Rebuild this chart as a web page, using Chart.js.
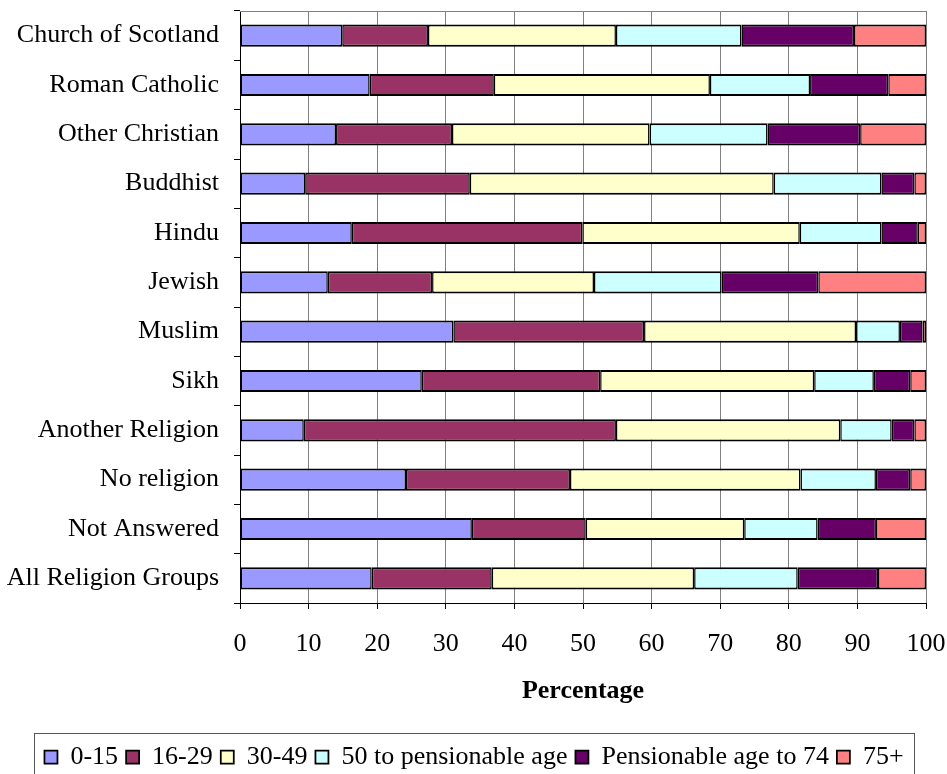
<!DOCTYPE html>
<html>
<head>
<meta charset="utf-8">
<script src="https://cdn.jsdelivr.net/npm/chart.js@4.4.1/dist/chart.umd.min.js"></script>
<style>
  html, body { margin: 0; padding: 0; background: #ffffff; overflow: hidden; }
  #wrap { width: 947px; height: 774px; overflow: hidden; }
  canvas { display: block; }
</style>
</head>
<body>
<div id="wrap"><canvas id="chart" width="947" height="780"></canvas></div>
<script>
// Religion groups (one bar each, top to bottom)
const categories = [
  'Church of Scotland', 'Roman Catholic', 'Other Christian', 'Buddhist', 'Hindu',
  'Jewish', 'Muslim', 'Sikh', 'Another Religion', 'No religion', 'Not Answered',
  'All Religion Groups'
];

// Age band names
const seriesNames = ['0-15', '16-29', '30-49', '50 to pensionable age', 'Pensionable age to 74', '75+'];

// Percentage of each religion group in each age band
const age0to15      = [14.9, 18.9, 14.0,  9.5, 16.3, 12.8, 31.1, 26.5,  9.3, 24.2, 33.8, 19.2];
const age16to29     = [12.5, 18.1, 16.9, 24.0, 33.6, 15.2, 27.8, 26.0, 45.5, 23.9, 16.6, 17.5];
const age30to49     = [27.4, 31.5, 28.8, 44.3, 31.7, 23.6, 30.9, 31.2, 32.7, 33.6, 23.1, 29.5];
const age50toPens   = [18.3, 14.6, 17.2, 15.7, 11.9, 18.6,  6.4,  8.7,  7.5, 11.0, 10.7, 15.1];
const agePensTo74   = [16.4, 11.4, 13.5,  4.8,  5.3, 14.1,  3.3,  5.3,  3.3,  5.0,  8.5, 11.7];
const age75plus     = [10.5,  5.5,  9.6,  1.7,  1.2, 15.7,  0.5,  2.3,  1.7,  2.3,  7.3,  7.0];

// Axis tick labels
const xTicks = [0, 10, 20, 30, 40, 50, 60, 70, 80, 90, 100];
const xTitle = 'Percentage';

const seriesValues = [age0to15, age16to29, age30to49, age50toPens, agePensTo74, age75plus];
const seriesColors = ['#9999FF', '#993366', '#FFFFCC', '#CCFFFF', '#660066', '#FF8080'];

const FONT = "'Liberation Serif', 'Times New Roman', serif";

// Thin gray frame along the top edge of the plot area
const plotFrame = {
  id: 'plotFrame',
  beforeDatasetsDraw(chart) {
    const { ctx, chartArea: a } = chart;
    ctx.save();
    ctx.strokeStyle = '#808080';
    ctx.lineWidth = 1;
    ctx.beginPath();
    ctx.moveTo(a.left, a.top + 0.5);
    ctx.lineTo(a.right + 0.5, a.top + 0.5);
    ctx.stroke();
    ctx.restore();
  }
};

// Nudge the legend row a little to the right, then box it in
const legendFrame = {
  id: 'legendFrame',
  afterLayout(chart) {
    if (chart.legend) chart.legend.left += 22;
  },
  afterDraw(chart) {
    const lg = chart.legend;
    if (!lg || !lg.legendHitBoxes || !lg.legendHitBoxes.length) return;
    const boxes = lg.legendHitBoxes;
    let l = Infinity, r = -Infinity;
    boxes.forEach(b => { l = Math.min(l, b.left); r = Math.max(r, b.left + b.width); });
    const { ctx } = chart;
    ctx.save();
    ctx.strokeStyle = '#555555';
    ctx.lineWidth = 1;
    const left = Math.round(l - 10) + 0.5;
    const right = Math.round(r + 10) + 0.5;
    const top = Math.round(lg.top - 3) + 0.5;
    ctx.strokeRect(left, top, right - left, chart.height + 20 - top);
    ctx.restore();
  }
};

new Chart(document.getElementById('chart'), {
  type: 'bar',
  data: {
    labels: categories,
    datasets: seriesNames.map((name, i) => ({
      label: name,
      data: seriesValues[i],
      backgroundColor: seriesColors[i],
      borderColor: '#000000',
      borderWidth: { top: 2, bottom: 2, left: 1.5, right: 1.5 },
      borderSkipped: false,
      barPercentage: 0.9,
      categoryPercentage: 0.5
    }))
  },
  options: {
    indexAxis: 'y',
    responsive: false,
    devicePixelRatio: 1,
    animation: false,
    layout: { padding: { top: 11, right: 21, left: 0, bottom: 0 } },
    plugins: {
      legend: {
        position: 'bottom',
        labels: {
          color: '#000000',
          font: { family: FONT, size: 26 },
          boxWidth: 13,
          boxHeight: 13,
          padding: 8
        }
      },
      tooltip: { enabled: false }
    },
    scales: {
      x: {
        type: 'linear',
        stacked: true,
        min: 0,
        max: 100,
        afterBuildTicks(scale) { scale.ticks = xTicks.map(v => ({ value: v })); },
        afterFit(scale) {
          scale.height = 133;
          scale.paddingLeft = 0;
          scale.paddingRight = 0;
        },
        ticks: {
          color: '#000000',
          font: { family: FONT, size: 26 },
          padding: 20,
          maxRotation: 0,
          autoSkip: false
        },
        grid: {
          color: '#808080',
          lineWidth: 1,
          tickColor: '#000000',
          tickLength: 6
        },
        border: { color: '#000000', width: 1 },
        title: {
          display: true,
          text: xTitle,
          color: '#000000',
          font: { family: FONT, size: 26, weight: 'bold', lineHeight: 1.2 },
          padding: { top: 0, bottom: 29 }
        }
      },
      y: {
        type: 'category',
        stacked: true,
        afterFit(scale) {
          scale.width = 240;
          scale.paddingTop = 0;
          scale.paddingBottom = 0;
        },
        ticks: {
          color: '#000000',
          font: { family: FONT, size: 26 },
          padding: 15,
          autoSkip: false
        },
        grid: {
          offset: true,
          drawOnChartArea: false,
          drawTicks: true,
          tickLength: 6,
          tickColor: '#000000'
        },
        border: { color: '#000000', width: 1 }
      }
    }
  },
  plugins: [plotFrame, legendFrame]
});
</script>
</body>
</html>
